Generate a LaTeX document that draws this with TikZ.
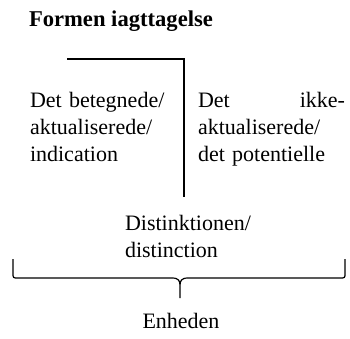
\documentclass[tikz,border=0pt]{standalone}
\usepackage{fontspec}
\setmainfont{Liberation Serif}
\usepackage{tikz}
\usetikzlibrary{positioning}

\begin{document}
\begin{tikzpicture}[x=1pt, y=-1pt, inner sep=0pt, outer sep=0pt,
        txt/.style={anchor=base west, align=left, font=\fontsize{22}{27}\selectfont},
        formline/.style={line width=1.2pt}]
        \useasboundingbox (0,0) rectangle (350,339);
        \node[txt, font=\fontsize{22.6}{27}\selectfont\bfseries] (title) at (29,27) {Formen iagttagelse};
        \node[txt, text width=140] (ind) at (30,108) {Det betegnede/\\aktualiserede/\\indication};
        \node[txt, text width=147] (pot) at (198,108) {Det\hfill ikke-\\aktualiserede/\\det potentielle};
        \node[txt, text width=135] (dist) at (125,230) {Distinktionen/\\distinction};
        \coordinate (m0) at (67,59);
        \coordinate (m1) at (184,197);
        \coordinate (bl) at (13,259);
        \coordinate (br) at (345,259);
        \coordinate (tip) at (180,298);
        \node[txt, anchor=base] (enh) at (181,328) {Enheden};
        
        \draw[formline] (m0) -| (m1);
        \draw[formline, line join=round]
        (bl) -- (13,273) .. controls (13,278) .. (18,278) -- (172,278)
        .. controls (179,278) and (180,281) .. (180,286) -- (tip)
        (br) -- (345,273) .. controls (345,278) .. (340,278) -- (188,278)
        .. controls (181,278) and (180,281) .. (180,286);
        
    \end{tikzpicture}
\end{document}
